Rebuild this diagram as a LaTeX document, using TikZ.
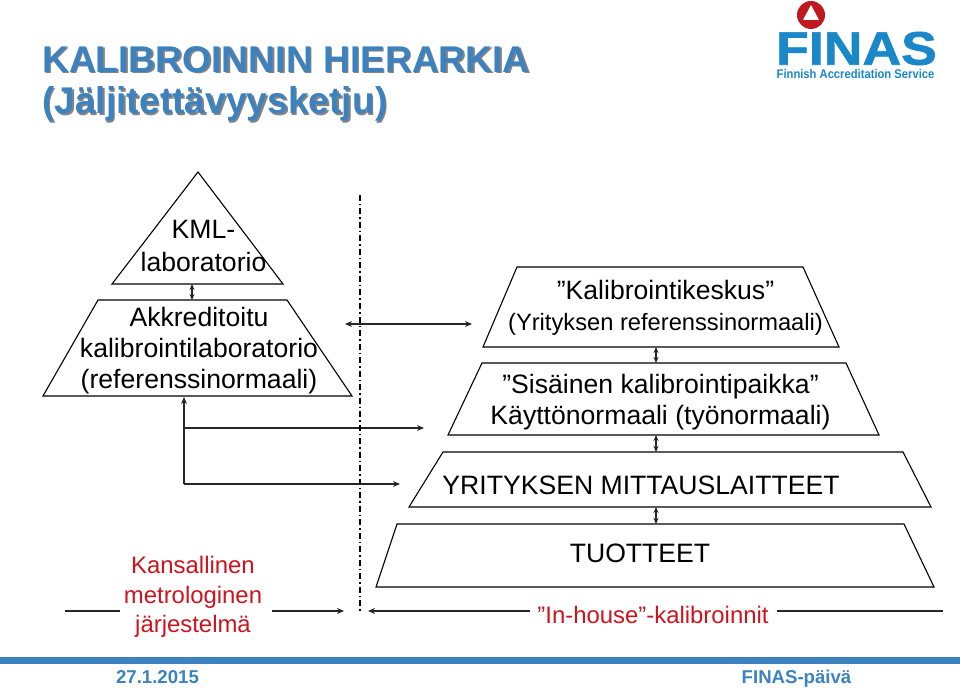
\documentclass[tikz,border=0pt]{standalone}
\usepackage{fontspec}
\setmainfont{Liberation Sans}
\newfontfamily\logofont[FakeBold=1.4,FakeStretch=1.14]{Liberation Sans}
\newfontfamily\servicefont[FakeStretch=0.89]{Liberation Sans}
\usetikzlibrary{arrows.meta,positioning}
\definecolor{finasblue}{RGB}{60,130,190}
\definecolor{logoblue}{RGB}{25,135,200}
\definecolor{logored}{RGB}{190,25,30}
\definecolor{kmlred}{RGB}{205,20,30}
\definecolor{titleshade}{RGB}{130,130,135}
\newcommand{\shadedtitle}[1]{\rlap{\kern1.5pt\raisebox{-1.5pt}{\textcolor{titleshade}{#1}}}\textcolor{finasblue}{#1}}
\tikzset{
    hierarchy diagram/.style = {x=1pt, y=-1pt, >={Stealth[length=7pt, width=6pt]}},
    level/.style       = {draw, line width=1.1pt, line join=miter},
    line/.style        = {line width=1.2pt, draw=black!85},
    link/.style        = {line, <->, >={Stealth[length=6pt, width=5pt]}},
    lab/.style         = {font=\fontsize{26.6}{31}\selectfont, align=center, inner sep=0pt},
    redlab/.style      = {lab, text=kmlred},
    titletext/.style   = {font=\fontsize{37.2}{44}\selectfont\bfseries, anchor=west, inner sep=0pt},
    foot/.style        = {font=\fontsize{18.6}{20}\selectfont\bfseries, text=finasblue, inner sep=0pt, anchor=base},
    border/.style      = {line width=1.2pt, dash pattern=on 6pt off 3pt on 1.5pt off 3pt}
}
\begin{document}
\begin{tikzpicture}[hierarchy diagram]
\useasboundingbox (0,0) rectangle (960,692);

% ================= Title =================
\node[titletext] (title one) at (42,60) {\shadedtitle{KALIBROINNIN HIERARKIA}};
\node[titletext] (title two) at (42,105) {\shadedtitle{(Jäljitettävyysketju)}};

% ================= Logo =================
\fill[logored] (811,15) circle (14);
\fill[white] (811,5) -- (819,20) -- (803,20) -- cycle;
\node[font=\fontsize{47}{47}\selectfont\logofont\bfseries, text=logoblue, inner sep=0pt] (logo name) at (856.5,48.5) {FINAS};
\node[font=\fontsize{12.6}{13}\selectfont\servicefont\bfseries, text=logoblue, inner sep=0pt] (logo service) at (855.5,74.5) {Finnish Accreditation Service};

% ================= Left pyramid =================
\draw[level] (198,172) -- (283,284) -- (112,284) -- cycle;
\draw[level] (98,300) -- (287,300) -- (352,396) -- (43,396) -- cycle;
\node[lab, font=\fontsize{26.6}{33}\selectfont] (kml) at (203.5,245.5) {KML-\\laboratorio};
\node[lab] (accredited) at (199,351) {Akkreditoitu\\kalibrointilaboratorio\\(referenssinormaali)};
\coordinate (kml base) at (192,284);
\coordinate (accredited top) at (192,300);
\draw[link] (kml base) -- (accredited top);

% ================= Right pyramid =================
\draw[level] (517,267) -- (803,267) -- (839,347) -- (483,347) -- cycle;
\draw[level] (482,363) -- (846,363) -- (879,435) -- (448,435) -- cycle;
\draw[level] (443,452) -- (903,452) -- (931,507) -- (409,507) -- cycle;
\draw[level] (397,524) -- (904,524) -- (934,587) -- (376,587) -- cycle;
\node[lab] (centre) at (665.5,307.5) {”Kalibrointikeskus”\\{\fontsize{23.7}{31}\selectfont (Yrityksen referenssinormaali)}};
\node[lab] (internal) at (660.5,402) {”Sisäinen kalibrointipaikka”\\Käyttönormaali (työnormaali)};
\node[lab] (devices) at (641,485) {YRITYKSEN MITTAUSLAITTEET};
\node[lab] (products) at (640,553) {TUOTTEET};
\foreach \from/\to/\name in {347/363/a, 435/452/b, 507/524/c} {
    \coordinate (upper \name) at (656,\from);
    \coordinate (lower \name) at (656,\to);
    \draw[link] (upper \name) -- (lower \name);
}

% ================= Connections between the sides =================
\coordinate (left end) at (345,324);
\coordinate (right end) at (472,324);
\draw[<->, line] (left end) -- (right end);
\coordinate (corner) at (184,484);
\coordinate (pyramid foot) at (184,397);
\coordinate (branch) at (184,428);
\coordinate (upper end) at (424,428);
\coordinate (lower end) at (400,484);
\draw[->, line] (corner) -- (pyramid foot);
\draw[->, line] (branch) -- (upper end);
\draw[->, line] (corner) -- (lower end);

% ================= Divider =================
\coordinate (divider top) at (360,195);
\coordinate (divider foot) at (360,612);
\draw[border] (divider top) -- (divider foot);

% ================= Bottom row =================
\node[redlab, font=\fontsize{23.9}{29.5}\selectfont] (national) at (193,597) {Kansallinen\\metrologinen\\järjestelmä};
\node[redlab, font=\fontsize{23.9}{26}\selectfont] (inhouse) at (653,615) {”In-house”-kalibroinnit};
\coordinate (far left) at (65,611);
\coordinate (national left) at (120,611);
\coordinate (national right) at (272,611);
\coordinate (divider left) at (344,611);
\coordinate (divider right) at (368,611);
\coordinate (inhouse left) at (530,611);
\coordinate (inhouse right) at (777,611);
\coordinate (far right) at (943,611);
\draw[line] (far left) -- (national left);
\draw[->, line] (national right) -- (divider left);
\draw[->, line] (inhouse left) -- (divider right);
\draw[line] (inhouse right) -- (far right);

% ================= Footer =================
\fill[finasblue] (0,657) rectangle (960,664);
\node[foot] (date) at (157.5,683.5) {27.1.2015};
\node[foot] (event) at (796.5,683.5) {FINAS-päivä};

\end{tikzpicture}
\end{document}
